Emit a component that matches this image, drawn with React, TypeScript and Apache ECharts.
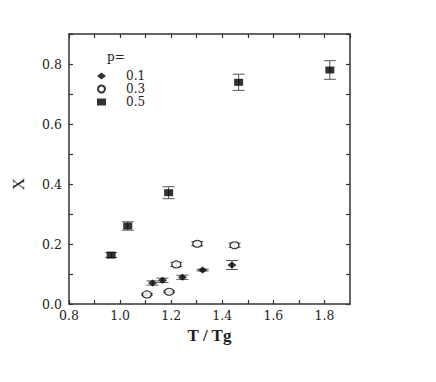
import React, { useEffect, useRef } from "react";
import * as echarts from "echarts";

const p01X = [1.127, 1.166, 1.244, 1.323, 1.438];
const p01Y = [0.07, 0.079, 0.089, 0.113, 0.13];
const p01Err = [0.007, 0.007, 0.007, 0.003, 0.015];

const p03X = [1.105, 1.192, 1.22, 1.302, 1.448];
const p03Y = [0.032, 0.041, 0.132, 0.201, 0.196];
const p03Err = [0.003, 0.003, 0.007, 0.007, 0.007];

const p05X = [0.965, 1.03, 1.19, 1.464, 1.821];
const p05Y = [0.163, 0.26, 0.371, 0.739, 0.78];
const p05Err = [0.008, 0.014, 0.02, 0.027, 0.031];

const seriesNames = ["0.1", "0.3", "0.5"];

const SERIF = "Liberation Serif";
const WIDE = "DejaVu Serif";

function pts(xs: number[], ys: number[]) {
  return xs.map((x, i) => [x, ys[i]]);
}
function errPts(xs: number[], ys: number[], es: number[]) {
  return xs.map((x, i) => [x, ys[i] - es[i], ys[i] + es[i]]);
}

const errRender = (params: any, api: any) => {
  const x = api.value(0);
  const lo = api.coord([x, api.value(1)]);
  const hi = api.coord([x, api.value(2)]);
  const hw = 6;
  const style = { stroke: "#555", lineWidth: 1 };
  return {
    type: "group",
    children: [
      { type: "line", shape: { x1: lo[0], y1: lo[1], x2: hi[0], y2: hi[1] }, style },
      { type: "line", shape: { x1: lo[0] - hw, y1: lo[1], x2: lo[0] + hw, y2: lo[1] }, style },
      { type: "line", shape: { x1: hi[0] - hw, y1: hi[1], x2: hi[0] + hw, y2: hi[1] }, style },
    ],
  };
};

const labelFmt = (v: number) => (Math.round(v * 10) % 2 === 0 ? v.toFixed(1) : "");

export default function App() {
  const ref = useRef<HTMLDivElement>(null);
  useEffect(() => {
    if (!ref.current) return;
    const chart = echarts.init(ref.current, null, { renderer: "svg" });
    const axisLine = { show: true, onZero: false, lineStyle: { color: "#333", width: 1.5 } };
    const axisTick = { show: true, inside: true, length: 4, lineStyle: { color: "#333", width: 1.2 } };
    const labelStyle = { fontFamily: WIDE, fontSize: 12.5, color: "#222" };
    chart.setOption({
      animation: false,
      backgroundColor: "#fff",
      grid: { left: 69, top: 34, right: 86, bottom: 78, containLabel: false },
      legend: {
        orient: "vertical",
        left: 92,
        top: 65,
        itemWidth: 9,
        itemHeight: 7,
        itemGap: 1,
        data: seriesNames,
        textStyle: { fontFamily: WIDE, fontSize: 12, color: "#222", padding: [0, 0, 0, 15] },
      },
      graphic: [
        {
          type: "text",
          left: 107,
          top: 51,
          style: { text: "p=", fontFamily: WIDE, fontSize: 12, fill: "#222" },
        },
      ],
      xAxis: [
        {
          type: "value",
          min: 0.8,
          max: 1.9,
          interval: 0.1,
          name: "T / Tg",
          nameLocation: "middle",
          nameGap: 18,
          nameTextStyle: { fontFamily: SERIF, fontSize: 17, fontWeight: "bold", color: "#222" },
          axisLine,
          axisTick,
          splitLine: { show: false },
          axisLabel: { ...labelStyle, margin: 5, formatter: labelFmt, showMaxLabel: false },
        },
        {
          type: "value",
          position: "top",
          min: 0.8,
          max: 1.9,
          interval: 0.1,
          axisLine,
          axisTick,
          splitLine: { show: false },
          axisLabel: { show: false },
        },
      ],
      yAxis: [
        {
          type: "value",
          min: 0,
          max: 0.9,
          interval: 0.1,
          name: "X",
          nameLocation: "middle",
          nameGap: 42,
          nameRotate: 90,
          nameTextStyle: { fontFamily: SERIF, fontSize: 17, color: "#222", padding: [0, 30, 0, 0] },
          axisLine,
          axisTick,
          splitLine: { show: false },
          axisLabel: { ...labelStyle, margin: 7, formatter: labelFmt },
        },
        {
          type: "value",
          position: "right",
          min: 0,
          max: 0.9,
          interval: 0.1,
          axisLine,
          axisTick,
          splitLine: { show: false },
          axisLabel: { show: false },
        },
      ],
      series: [
        {
          type: "custom",
          renderItem: errRender,
          data: errPts(p01X, p01Y, p01Err),
          encode: { x: 0, y: [1, 2] },
          silent: true,
          z: 1,
        },
        {
          type: "custom",
          renderItem: errRender,
          data: errPts(p03X, p03Y, p03Err),
          encode: { x: 0, y: [1, 2] },
          silent: true,
          z: 1,
        },
        {
          type: "custom",
          renderItem: errRender,
          data: errPts(p05X, p05Y, p05Err),
          encode: { x: 0, y: [1, 2] },
          silent: true,
          z: 1,
        },
        {
          name: seriesNames[0],
          type: "scatter",
          symbol: "diamond",
          symbolSize: [9, 7],
          itemStyle: { color: "#000" },
          data: pts(p01X, p01Y),
          z: 3,
        },
        {
          name: seriesNames[1],
          type: "scatter",
          symbol: "circle",
          symbolSize: [9, 7],
          itemStyle: { color: "#fff", borderColor: "#000", borderWidth: 1.2 },
          data: pts(p03X, p03Y),
          z: 3,
        },
        {
          name: seriesNames[2],
          type: "scatter",
          symbol: "rect",
          symbolSize: [9, 7],
          itemStyle: { color: "#000" },
          data: pts(p05X, p05Y),
          z: 3,
        },
      ],
    });
    return () => chart.dispose();
  }, []);
  return (
    <div
      ref={ref}
      style={{ position: "fixed", left: 0, top: 0, width: 436, height: 382, background: "#fff" }}
    />
  );
}
